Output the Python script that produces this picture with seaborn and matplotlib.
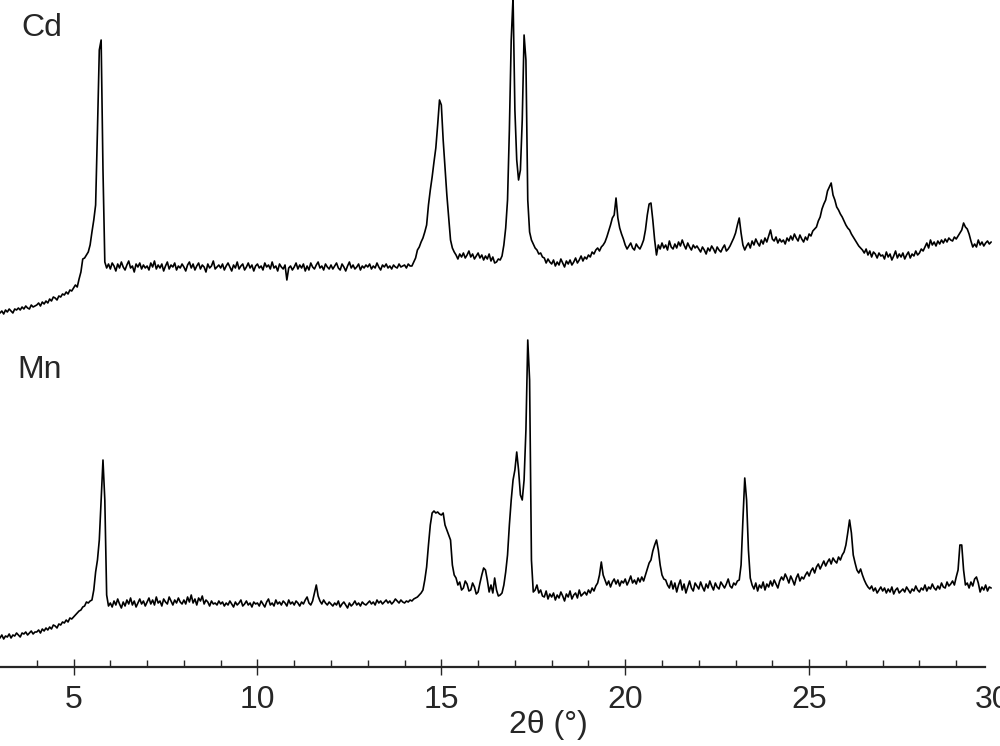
import numpy as np
import matplotlib
matplotlib.use("Agg")
import matplotlib.pyplot as plt
import seaborn as sns

# 2-theta sampling grid (degrees)
theta_start, theta_step, n_points = 3.0, 0.05, 540
two_theta = np.round(theta_start + theta_step * np.arange(n_points), 2)

# Cd sample intensity (a.u.), one row per degree, 0.05 deg step
cd_intensity = [
    54, 56, 53, 57, 55, 58, 56, 54, 58, 57, 59, 57, 60, 58, 61, 59, 58, 62, 60, 61,
    62, 64, 61, 65, 63, 66, 64, 68, 66, 70, 69, 67, 71, 70, 73, 72, 75, 73, 77, 76,
    79, 82, 80, 88, 95, 108, 109, 112, 115, 122, 135, 147, 162, 237, 317, 327, 197, 105, 99, 103,
    98, 104, 101, 96, 103, 99, 105, 100, 97, 102, 106, 99, 101, 95, 103, 100, 104, 98, 102, 99,
    101, 97, 104, 100, 106, 98, 102, 99, 103, 96, 101, 105, 98, 102, 100, 104, 97, 101, 99, 103,
    100, 96, 102, 105, 99, 103, 97, 101, 104, 98, 102, 100, 95, 103, 99, 101, 106, 98, 100, 102,
    99, 103, 97, 101, 104, 100, 96, 102, 99, 105, 98, 101, 103, 97, 100, 104, 99, 102, 96, 101,
    103, 99, 101, 97, 104, 100, 102, 98, 105, 99, 101, 96, 103, 100, 98, 102, 87, 99, 101, 97,
    100, 104, 98, 102, 99, 103, 96, 101, 97, 104, 100, 98, 102, 105, 99, 101, 97, 103, 100, 98,
    102, 98, 101, 104, 99, 97, 103, 100, 96, 101, 105, 99, 102, 98, 100, 103, 97, 101, 99, 102,
    100, 103, 98, 101, 99, 104, 100, 97, 102, 100, 103, 99, 101, 98, 102, 100, 99, 103, 100, 101,
    102, 99, 103, 101, 101, 105, 109, 117, 120, 125, 129, 135, 142, 162, 177, 190, 205, 219, 242, 267,
    262, 227, 199, 172, 150, 127, 119, 115, 112, 108, 113, 110, 114, 109, 112, 116, 110, 113, 108, 111,
    114, 109, 112, 107, 111, 108, 113, 106, 110, 104, 105, 108, 107, 111, 122, 139, 167, 237, 327, 370,
    257, 207, 187, 197, 247, 332, 307, 167, 135, 127, 123, 119, 117, 113, 114, 110, 109, 104, 108, 105,
    103, 107, 101, 105, 102, 108, 104, 100, 106, 103, 107, 102, 105, 109, 104, 107, 111, 106, 110, 108,
    112, 110, 115, 113, 117, 119, 116, 120, 122, 125, 130, 136, 142, 149, 152, 169, 149, 139, 133, 128,
    122, 118, 121, 124, 119, 117, 123, 120, 118, 122, 127, 137, 152, 163, 164, 147, 127, 112, 122, 118,
    124, 119, 122, 117, 126, 120, 118, 123, 119, 125, 121, 127, 122, 118, 124, 120, 117, 122, 119, 121,
    118, 115, 120, 117, 113, 119, 116, 121, 118, 114, 120, 117, 115, 119, 122, 116, 118, 121, 125, 129,
    134, 142, 149, 134, 122, 117, 121, 124, 119, 126, 122, 128, 124, 121, 127, 123, 129, 125, 131, 137,
    128, 126, 130, 124, 128, 125, 127, 123, 129, 126, 131, 127, 133, 129, 126, 132, 128, 125, 130, 127,
    133, 131, 136, 138, 140, 146, 150, 158, 163, 167, 176, 180, 184, 172, 167, 160, 157, 153, 150, 146,
    142, 139, 137, 133, 130, 127, 124, 121, 119, 117, 114, 118, 112, 116, 110, 115, 113, 109, 114, 111,
    112, 108, 115, 110, 113, 107, 111, 116, 109, 113, 110, 114, 108, 112, 115, 109, 113, 111, 116, 112,
    114, 118, 116, 120, 124, 119, 127, 122, 125, 121, 126, 123, 127, 124, 128, 125, 129, 127, 126, 130,
    128, 131, 134, 137, 144, 140, 138, 133, 126, 120, 123, 120, 127, 122, 125, 121, 124, 126, 123, 125,
]

# Mn sample intensity (a.u.), same grid
mn_intensity = [
    29, 32, 28, 31, 30, 33, 29, 32, 31, 34, 32, 30, 34, 33, 35, 32, 34, 36, 33, 35,
    35, 37, 34, 38, 36, 39, 37, 40, 38, 42, 41, 39, 43, 42, 45, 44, 47, 45, 49, 48,
    50, 52, 54, 56, 57, 60, 61, 65, 64, 66, 67, 77, 95, 107, 127, 167, 207, 167, 72, 61,
    64, 60, 66, 62, 68, 63, 59, 65, 61, 67, 63, 69, 62, 66, 60, 64, 68, 63, 66, 61,
    65, 69, 63, 67, 62, 70, 64, 66, 61, 68, 65, 63, 70, 66, 62, 67, 64, 69, 65, 63,
    67, 63, 70, 65, 72, 64, 68, 62, 69, 66, 71, 63, 67, 65, 61, 66, 63, 64, 62, 66,
    63, 65, 61, 64, 62, 66, 63, 60, 65, 62, 64, 67, 61, 63, 66, 62, 64, 60, 65, 63,
    64, 61, 66, 63, 60, 65, 68, 62, 64, 61, 67, 63, 65, 62, 66, 64, 61, 67, 63, 65,
    62, 66, 64, 61, 65, 63, 67, 70, 64, 62, 66, 74, 82, 71, 66, 63, 67, 64, 62, 65,
    63, 61, 64, 62, 66, 60, 63, 65, 62, 59, 64, 61, 63, 66, 62, 64, 61, 65, 63, 62,
    64, 66, 63, 65, 62, 67, 64, 66, 63, 65, 67, 64, 66, 63, 65, 68, 66, 64, 67, 65,
    64, 66, 65, 67, 66, 68, 69, 70, 72, 74, 77, 87, 100, 122, 142, 154, 156, 154, 155, 153,
    152, 154, 142, 137, 132, 127, 102, 92, 89, 82, 85, 77, 79, 86, 83, 76, 77, 84, 80, 73,
    75, 84, 92, 99, 97, 87, 75, 82, 74, 89, 77, 71, 72, 74, 82, 95, 112, 142, 167, 187,
    197, 215, 197, 172, 167, 187, 237, 327, 287, 107, 75, 77, 82, 74, 77, 71, 70, 76, 68, 73,
    70, 74, 67, 72, 69, 75, 71, 66, 73, 70, 76, 68, 72, 74, 69, 77, 71, 73, 75, 72,
    77, 74, 79, 76, 81, 84, 92, 105, 92, 87, 82, 86, 80, 85, 88, 83, 87, 81, 86, 84,
    88, 82, 86, 91, 84, 87, 83, 89, 85, 90, 86, 92, 98, 104, 107, 116, 122, 127, 117, 102,
    92, 88, 87, 82, 79, 86, 78, 84, 75, 82, 87, 77, 83, 74, 80, 86, 79, 76, 84, 81,
    78, 85, 80, 76, 83, 79, 86, 81, 77, 84, 80, 78, 85, 82, 79, 83, 88, 81, 79, 84,
    82, 86, 87, 102, 147, 189, 167, 117, 89, 82, 78, 84, 76, 82, 79, 85, 77, 83, 80, 86,
    81, 87, 83, 79, 86, 90, 87, 93, 89, 84, 91, 87, 82, 89, 93, 86, 90, 88, 92, 95,
    91, 96, 99, 94, 100, 103, 98, 102, 106, 101, 105, 108, 103, 109, 106, 104, 110, 107, 112, 115,
    122, 134, 147, 134, 112, 104, 97, 94, 98, 92, 87, 83, 80, 78, 81, 76, 79, 74, 77, 80,
    76, 79, 74, 78, 75, 80, 73, 77, 79, 74, 76, 78, 75, 80, 77, 74, 78, 76, 81, 77,
    75, 79, 77, 82, 76, 80, 78, 83, 79, 77, 81, 78, 84, 80, 79, 85, 81, 83, 86, 82,
    90, 97, 122, 122, 97, 82, 84, 79, 85, 81, 88, 90, 84, 75, 80, 77, 82, 76, 80, 79,
]

cd_offset = 300

sns.set_style("ticks")
plt.rcParams["font.family"] = ["Liberation Sans", "DejaVu Sans"]

fig = plt.figure(figsize=(10, 7.46), dpi=100)
ax = fig.add_axes([0.0, 1 - 667 / 746, 0.993, 667 / 746])

sns.lineplot(x=two_theta, y=np.array(cd_intensity) + cd_offset, color="black",
             linewidth=1.2, ax=ax)
sns.lineplot(x=two_theta, y=np.array(mn_intensity), color="black",
             linewidth=1.2, ax=ax)

ax.set_xlim(3, 30)
ax.set_ylim(0, 667)
ax.set_xticks([5, 10, 15, 20, 25, 30])
ax.set_xticks(np.arange(4, 30), minor=True)
ax.set_yticks([])
for side in ["top", "left", "right"]:
    ax.spines[side].set_visible(False)
ax.spines["bottom"].set_linewidth(1.6)
ax.spines["bottom"].set_bounds(3, 29.78)
ax.tick_params(axis="x", which="major", direction="inout", length=12, width=1.0,
               labelsize=23, pad=7)
ax.tick_params(axis="x", which="minor", direction="in", length=5, width=1.0)
# the 30 tick mark sits past the end of the axis line in the original
ax.xaxis.get_major_ticks()[-1].tick1line.set_visible(False)
ax.patch.set_alpha(0)

ax.set_xlabel("2θ (°)", fontsize=23)
ax.xaxis.label.set_va("center")
ax.xaxis.set_label_coords(0.552, -0.087)

ax.text(0.022, 0.958, "Cd", transform=ax.transAxes, fontsize=23, ha="left", va="center")
ax.text(0.018, 0.445, "Mn", transform=ax.transAxes, fontsize=23, ha="left", va="center")

plt.savefig("out.png", dpi=100)
